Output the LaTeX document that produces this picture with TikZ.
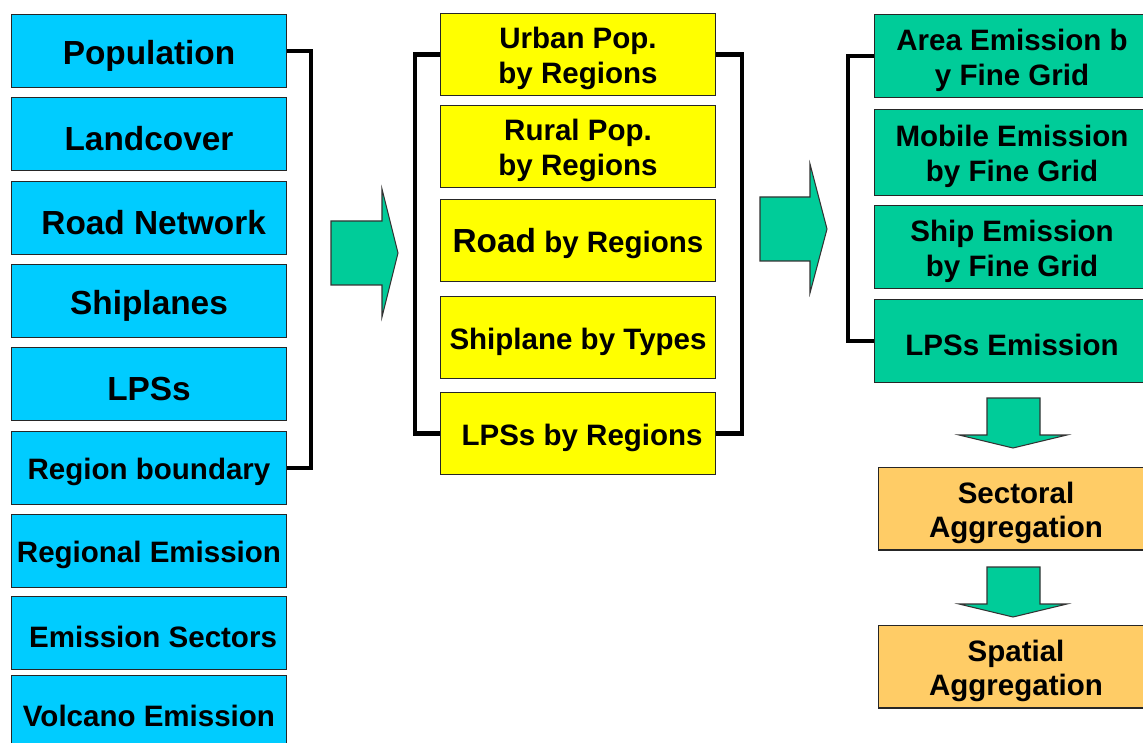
\documentclass[tikz,border=0pt]{standalone}
\usepackage{fontspec}
\setmainfont{Liberation Sans}
\usetikzlibrary{positioning}

\definecolor{inputblue}{HTML}{00CCFF}
\definecolor{regyellow}{HTML}{FFFF00}
\definecolor{gridgreen}{HTML}{00CC99}
\definecolor{aggorange}{HTML}{FFCC66}

\newcommand{\lift}{\rule{0pt}{1.0em}}

\tikzset{
	box/.style={draw=black!85,line width=0.6pt,anchor=north west,align=center,
		inner sep=0pt,minimum width=5.5cm,font=\bfseries\fontsize{16.8}{19.8}\selectfont,
		execute at begin node={\lift}},
	bigtext/.style={font=\bfseries\fontsize{19}{22.8}\selectfont},
	inbox/.style={box,fill=inputblue,minimum height=1.46cm},
	regbox/.style={box,fill=regyellow,minimum height=1.64cm},
	gridbox/.style={box,fill=gridgreen,minimum height=1.66cm},
	aggbox/.style={box,fill=aggorange,minimum height=1.65cm},
	bracket/.style={line width=2.8pt,line join=miter},
	fatarrow/.style={fill=gridgreen,draw=black!80,line width=0.6pt,line join=miter}
}

\begin{document}
\begin{tikzpicture}[x=0.02cm,y=-0.02cm]
	\clip (0,0) rectangle (1143,743);
	% input data
	\node[inbox,bigtext] (pop) at (11,14) {Population};
	\node[inbox,bigtext] (land) at (11,97) {Landcover};
	\node[inbox,bigtext] (road) at (11,181) {\ Road Network};
	\node[inbox,bigtext] (ship) at (11,264) {Shiplanes};
	\node[inbox,bigtext] (lps) at (11,347) {LPSs};
	\node[inbox] (bnd) at (11,431) {Region boundary};
	\node[inbox] (remis) at (11,514) {Regional Emission};
	\node[inbox] (esec) at (11,596) {\ Emission Sectors};
	\node[inbox] (volc) at (11,675) {Volcano Emission};
	% regional data
	\node[regbox] (urb) at (440,13) {\lift Urban Pop.\\by Regions};
	\node[regbox] (rur) at (440,105) {\lift Rural Pop.\\by Regions};
	\node[regbox] (rreg) at (440,199) {{\fontsize{19}{22.8}\selectfont Road} by Regions};
	\node[regbox] (stype) at (440,296) {Shiplane by Types};
	\node[regbox] (lpr) at (440,392) {\ LPSs by Regions};
	% gridded emissions
	\node[gridbox] (area) at (874,14) {\lift Area Emission b\\y Fine Grid};
	\node[gridbox,minimum height=1.72cm] (mob) at (874,109) {\lift Mobile Emission\\by Fine Grid};
	\node[gridbox] (shipe) at (874,205) {\lift Ship Emission\\by Fine Grid};
	\node[gridbox] (lpse) at (874,299) {LPSs Emission};
	% aggregation
	\node[aggbox] (sect) at (878,467) {\lift Sectoral\\Aggregation};
	\node[aggbox] (spat) at (878,625) {\lift Spatial\\Aggregation};
	% brackets
	\draw[bracket] (pop.east) -- ++(24,0) |- (bnd.east);
	\draw[bracket] (urb.west) -- ++(-25,0) |- (lpr.west);
	\draw[bracket] (urb.east) -- ++(26,0) |- (lpr.east);
	\draw[bracket] (area.west) -- ++(-26,0) |- (lpse.west);
	% arrows
	\draw[fatarrow] (331,221) -- (382,221) -- (382,189) -- (398,253) -- (382,317) -- (382,285) -- (331,285) -- cycle;
	\draw[fatarrow] (760,197) -- (810,197) -- (810,164) -- (827,229) -- (810,293) -- (810,261) -- (760,261) -- cycle;
	\draw[fatarrow] (987,398) -- (1040,398) -- (1040,435) -- (1067,435) -- (1013,448) -- (959,435) -- (987,435) -- cycle;
	\draw[fatarrow] (987,567) -- (1040,567) -- (1040,604) -- (1067,604) -- (1013,617) -- (959,604) -- (987,604) -- cycle;
\end{tikzpicture}
\end{document}
